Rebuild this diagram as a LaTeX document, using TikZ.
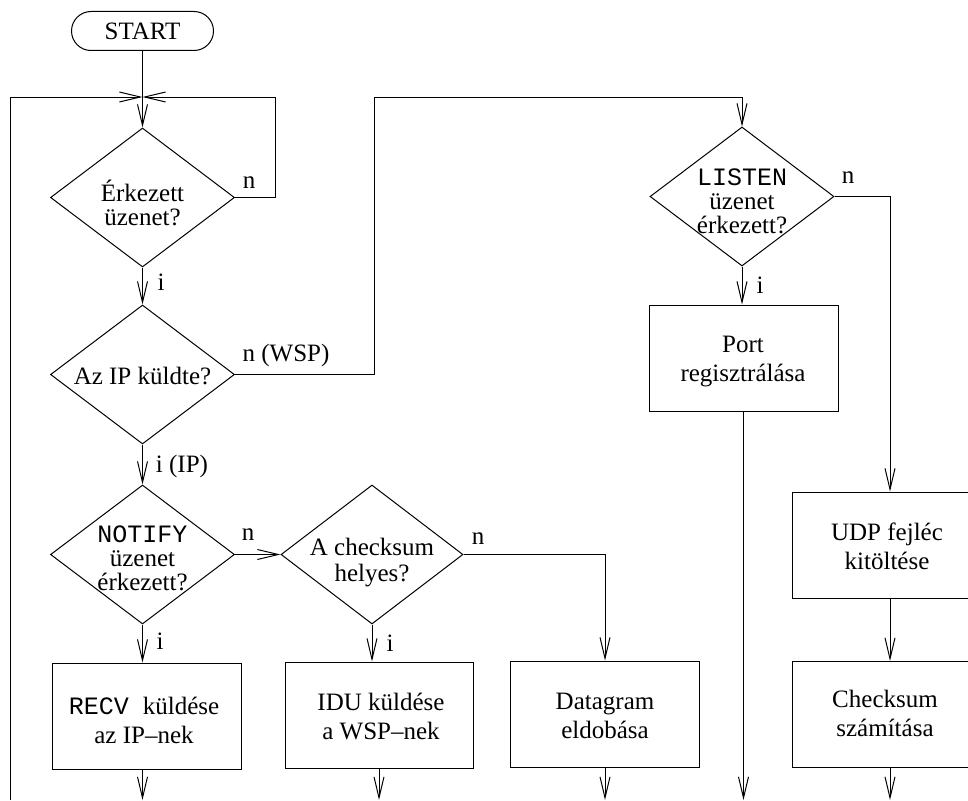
\documentclass[tikz,border=0pt]{standalone}
\usepackage{fontspec}
\setmainfont{Liberation Serif}
\setmonofont{Liberation Mono}
\usetikzlibrary{shapes.geometric,shapes.misc,arrows.meta}

\begin{document}
\begin{tikzpicture}[x=1pt,y=-1pt,
  every node/.style={font=\fontsize{25}{24}\selectfont, inner sep=0pt},
  wire/.style={line width=1pt},
  flow/.style={wire, -{Straight Barb[length=21pt,width=10pt,line width=1pt]}},
  terminal/.style={rounded rectangle, draw, line width=1pt, minimum width=142pt, minimum height=39pt},
  decision/.style={diamond, draw, line width=1pt, minimum width=184pt, minimum height=139pt},
  process/.style={rectangle, draw, line width=1pt, minimum width=189pt, minimum height=106pt},
  dtext/.style={align=center, font=\fontsize{25}{24}\selectfont},
  btext/.style={align=center, font=\fontsize{25}{29}\selectfont},
  tag/.style={font=\fontsize{25}{24}\selectfont}
]
\path[use as bounding box] (0,0) rectangle (968,800);
\clip (0,0) rectangle (968,800);

% start and the main column of decisions
\node[terminal] (start) at (142.5,31) {START};
\node[decision] (d1) at (142.5,197.5) {};
\node[dtext] (d1t) at (142.5,203) {Érkezett\\üzenet?};
\node[decision] (d2) at (142.5,374.5) {};
\node[dtext] (d2t) at (142.5,376) {Az IP küldte?};
\node[decision] (d3) at (142.5,554.5) {};
\node[dtext] (d3t) at (142.5,558) {\texttt{NOTIFY}\\üzenet\\érkezett?};
\node[decision, minimum width=182pt] (d4) at (372,554.5) {};
\node[dtext, font=\fontsize{25}{26}\selectfont] (d4t) at (372,563) {A checksum\\helyes?};
\node[decision] (d5) at (742,196.5) {};
\node[dtext] (d5t) at (742,201) {\texttt{LISTEN}\\üzenet\\érkezett?};

% actions
\node[process] (recv) at (146.5,716) {};
\node[btext] (recvt) at (144,720) {\texttt{RECV}\hspace{14pt}küldése\\az IP–nek};
\node[process, minimum width=188pt] (idu) at (379,715) {};
\node[btext] (idut) at (381,716) {IDU küldése\\a WSP–nek};
\node[process] (dgram) at (605,714) {};
\node[btext] (dgramt) at (605,716) {Datagram\\eldobása};
\node[process] (port) at (743.5,358) {};
\node[btext] (portt) at (743,362) {Port\\regisztrálása};
\node[process, minimum width=196pt] (udp) at (890,545) {};
\node[btext] (udpt) at (887,546) {UDP fejléc\\kitöltése};
\node[process, minimum width=196pt] (chk) at (890,714.5) {};
\node[btext] (chkt) at (885,713.5) {Checksum\\számítása};

% branch labels
\node[tag] (n1) at (249,183) {n};
\node[tag] (i1) at (161,282) {i};
\node[tag] (n2) at (286,355) {n (WSP)};
\node[tag] (i2) at (182,466) {i (IP)};
\node[tag] (n3) at (248,535) {n};
\node[tag] (i3) at (160,641) {i};
\node[tag] (n4) at (478,539) {n};
\node[tag] (i4) at (390,643) {i};
\node[tag] (n5) at (848,178) {n};
\node[tag] (i5) at (760,285) {i};

% routing points
\coordinate (M) at (142.5,97);
\coordinate (loopR) at (275,97);
\coordinate (loopL) at (10,800);
\coordinate (wsp) at (374,97);
\coordinate (bottom) at (0,800);

% connectors
\draw[flow] (start.south) -- (d1.north);
\draw[flow] (d1.east) -| (loopR) -- (M);
\draw[flow] (loopL) |- (M);
\draw[flow] (d1.south) -- (d2.north);
\draw[flow] (d2.east) -| (wsp) -| (d5.north);
\draw[flow] (d2.south) -- (d3.north);
\draw[flow] (d3.east) -- (d4.west);
\draw[flow] (d3.south) -- (d3.south |- recv.north);
\draw[flow] (d4.south) -- (d4.south |- idu.north);
\draw[flow] (d4.east) -| (dgram.north);
\draw[flow] (d5.south) -- (d5.south |- port.north);
\draw[flow] (d5.east) -| (udp.north);
\draw[flow] (udp.south) -- (chk.north);

% exits at the bottom edge
\draw[flow] (d3.south |- recv.south) -- (d3.south |- bottom);
\draw[flow] (idu.south) -- (idu.south |- bottom);
\draw[flow] (dgram.south) -- (dgram.south |- bottom);
\draw[flow] (port.south) -- (port.south |- bottom);
\draw[flow] (chk.south) -- (chk.south |- bottom);
\end{tikzpicture}
\end{document}
